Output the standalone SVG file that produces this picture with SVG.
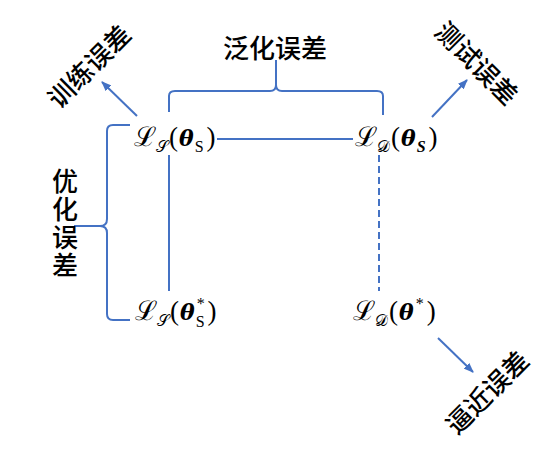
<svg xmlns="http://www.w3.org/2000/svg" width="554" height="453" viewBox="0 0 554 453">
<style>
.zh{font-family:"Noto Sans CJK SC","Noto Sans",sans-serif;font-size:26px;font-weight:500;fill:#000;}
.m{font-family:"Liberation Serif","DejaVu Serif",serif;font-size:27px;fill:#000;}
.sub{font-size:16px;}
.b{font-family:"DejaVu Serif",serif;font-weight:bold;font-style:italic;font-size:22px;}
.ln{stroke:#4472C4;stroke-width:2;fill:none;}
</style>
<defs>
<marker id="ah" markerWidth="10" markerHeight="8" refX="9" refY="4" orient="auto" markerUnits="userSpaceOnUse">
<path d="M0,0 L10,4 L0,8 Z" fill="#4472C4"/>
</marker>
</defs>
<rect width="554" height="453" fill="#fff"/>
<g id="connectors">
<line class="ln" x1="137" y1="116" x2="102" y2="82" marker-end="url(#ah)"/>
<line class="ln" x1="432" y1="117" x2="467" y2="80" marker-end="url(#ah)"/>
<line class="ln" x1="438" y1="338" x2="473" y2="372" marker-end="url(#ah)"/>
<line class="ln" x1="217" y1="139" x2="353" y2="139"/>
<line class="ln" x1="169" y1="155" x2="169" y2="291"/>
<line class="ln" x1="379" y1="155" x2="379" y2="291" stroke-dasharray="7,4"/>
<path class="ln" d="M169,112 V96 Q169,91 175,91 H270 Q276,91 276,85 V60 M276,85 Q276,91 282,91 H377 Q383,91 383,96 V115"/>
<path class="ln" d="M130,125 H113 Q107,125 107,131 V219 Q107,226 100,226 H74 M100,226 Q107,226 107,233 V314 Q107,320 113,320 H130"/>
</g>
<g id="train-error"><text class="zh" transform="translate(88,65) rotate(-45)" text-anchor="middle" dominant-baseline="central">训练误差</text></g>
<g id="gen-error"><text class="zh" x="275" y="46" text-anchor="middle" dominant-baseline="central">泛化误差</text></g>
<g id="test-error"><text class="zh" transform="translate(478,62) rotate(45)" text-anchor="middle" dominant-baseline="central">测试误差</text></g>
<g id="approx-error"><text class="zh" transform="translate(486,391) rotate(-45)" text-anchor="middle" dominant-baseline="central">逼近误差</text></g>
<g id="opt-error"><text class="zh" x="65" y="168" writing-mode="vertical-rl" letter-spacing="2">优化误差</text></g>
<g id="LS-thetaS">
<text class="m" x="134" y="146">ℒ<tspan class="sub" dy="6">𝒮</tspan><tspan dx="1" dy="-6">(</tspan><tspan class="b" dx="1">θ</tspan><tspan class="sub" dx="1" dy="6">S</tspan><tspan dx="3" dy="-6">)</tspan></text>
</g>
<g id="LD-thetaS">
<text class="m" x="355" y="146">ℒ<tspan class="sub" dy="6">𝒟</tspan><tspan dx="1" dy="-6">(</tspan><tspan class="b" dx="1">θ</tspan><tspan class="sub" dx="1" dy="6" font-weight="bold" font-style="italic">S</tspan><tspan dx="3" dy="-6">)</tspan></text>
</g>
<g id="LS-thetaStar">
<text class="m" x="135" y="320">ℒ<tspan class="sub" dy="6">𝒮</tspan><tspan dx="1" dy="-6">(</tspan><tspan class="b" dx="1">θ</tspan><tspan class="sub" dx="2" dy="-11">*</tspan><tspan class="sub" dx="-9" dy="18">S</tspan><tspan dx="3" dy="-7">)</tspan></text>
</g>
<g id="LD-thetaStar">
<text class="m" x="353" y="320">ℒ<tspan class="sub" dy="6">𝒟</tspan><tspan dx="1" dy="-6">(</tspan><tspan class="b" dx="1">θ</tspan><tspan class="sub" dx="2" dy="-11">*</tspan><tspan dx="3" dy="11">)</tspan></text>
</g>
</svg>
